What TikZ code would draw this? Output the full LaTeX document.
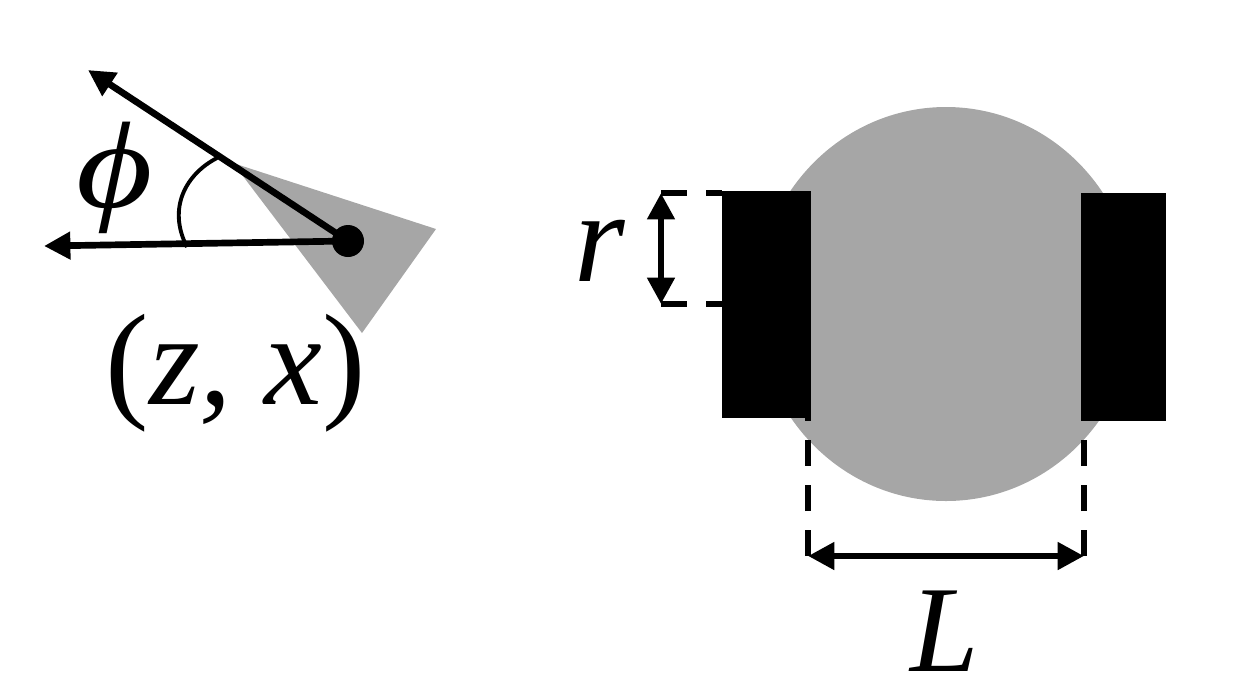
\documentclass[tikz,border=0pt]{standalone}
\usepackage{fontspec}
\setmainfont{Liberation Serif}
\usetikzlibrary{arrows.meta}
\tikzset{
  arrowline/.style={line width=1.9pt, -{Triangle[length=7.5pt,width=7.5pt]}},
  dimline/.style={line width=1.9pt, {Triangle[length=7.5pt,width=7.5pt]}-{Triangle[length=7.5pt,width=7.5pt]}},
  guideline/.style={line width=1.9pt, dash pattern=on 7.4pt off 5.4pt},
  biglabel/.style={inner sep=0pt, font=\fontsize{37}{42}\selectfont\itshape}
}
\definecolor{robotgray}{RGB}{166,166,166}
\begin{document}
\begin{tikzpicture}[x=0.01cm,y=-0.01cm]
    \useasboundingbox (0,0) rectangle (1242,696);
    % pose on the left
    \fill[robotgray] (233,163) -- (436,229) -- (362,333) -- cycle;
    \node[circle, fill=black, inner sep=0pt, minimum size=0.32cm] (Pose) at (348,241) {};
    \coordinate (HeadTip) at (88,70);
    \coordinate (AxisTip) at (44,246);
    \draw[arrowline] (Pose.center) -- (HeadTip);
    \draw[arrowline] (Pose.center) -- (AxisTip);
    \coordinate (ArcHead) at (217,158);
    \coordinate (ArcAxis) at (187,247);
    \draw[line width=1.1pt] (ArcHead) .. controls (186,174) and (167,208) .. (ArcAxis);
    \node[biglabel] (Phi) at (115,178) {\scalebox{1.2}[1]{\fontsize{35}{40}\selectfont ϕ}};
    \node[biglabel] (Pos) at (236,373) {{\upshape(}z, x{\upshape)}};

    % robot on the right
    \fill[robotgray] (946,304) ellipse [x radius=190, y radius=197];
    \node[fill=black, inner sep=0pt, minimum width=0.89cm, minimum height=2.27cm] (WheelL) at (766.5,304.5) {};
    \node[fill=black, inner sep=0pt, minimum width=0.85cm, minimum height=2.28cm] (WheelR) at (1123.5,307) {};

    % wheel radius
    \coordinate (RTop) at (722,193);
    \coordinate (RBot) at (722,304);
    \coordinate (RTopEnd) at (661,193);
    \coordinate (RBotEnd) at (661,304);
    \draw[guideline] (RTopEnd) -- (RTop);
    \draw[guideline] (RBotEnd) -- (RBot);
    \draw[dimline] (RTopEnd) -- (RBotEnd);
    \node[biglabel] (Rad) at (600,251) {r};

    % axle length
    \coordinate (LLeft) at (808,556);
    \coordinate (LRight) at (1084,556);
    \coordinate (LLeftTop) at (808,396);
    \coordinate (LRightTop) at (1084,396);
    \draw[guideline] (LLeft) -- (LLeftTop);
    \draw[guideline] (LRight) -- (LRightTop);
    \draw[dimline] (LLeft) -- (LRight);
    \node[biglabel] (Len) at (945,631) {\fontsize{35}{40}\selectfont L};
  \end{tikzpicture}
\end{document}
